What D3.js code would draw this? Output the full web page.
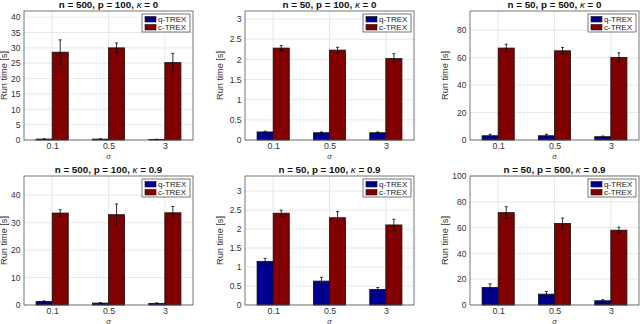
<!DOCTYPE html>
<html lang="en">
<head>
<meta charset="utf-8">
<title>q-TREX vs c-TREX run time</title>
<script src="https://d3js.org/d3.v7.min.js"></script>
<style>
  body { margin: 0; background: #fff; }
  svg { display: block; font-family: "Liberation Sans", Arial, sans-serif; }
</style>
</head>
<body>
<svg width="640" height="324"></svg>
<script>
// categories on the x axis (sigma)
const sigmaLabels = ["0.1", "0.5", "3"];
const seriesNames = ["q-TREX", "c-TREX"];

// panel titles: [n, p, kappa]
const panelN = ["500", "50", "50", "500", "50", "50"];
const panelP = ["100", "100", "500", "100", "100", "500"];
const panelKappa = ["0", "0", "0", "0.9", "0.9", "0.9"];

// mean run time [s] per panel
const qTrex = [
  [0.3, 0.3, 0.2],
  [0.2, 0.18, 0.18],
  [3.1, 3.1, 2.4],
  [1.3, 0.7, 0.6],
  [1.15, 0.63, 0.41],
  [13.6, 8.4, 3.3]
];
const qTrexErr = [
  [0.05, 0.05, 0.04],
  [0.02, 0.02, 0.02],
  [1.1, 1.1, 0.5],
  [0.2, 0.15, 0.15],
  [0.08, 0.1, 0.05],
  [2.8, 2.0, 0.8]
];
const cTrex = [
  [28.6, 30.0, 25.2],
  [2.28, 2.23, 2.02],
  [67.0, 65.0, 60.2],
  [33.5, 32.9, 33.6],
  [2.42, 2.30, 2.11],
  [71.6, 63.2, 58.0]
];
const cTrexErr = [
  [4.0, 1.6, 3.0],
  [0.06, 0.07, 0.12],
  [2.8, 2.5, 3.3],
  [1.2, 3.9, 2.3],
  [0.08, 0.16, 0.15],
  [4.6, 4.2, 2.4]
];

// y axis limits and tick values
const yMax = [42, 3.2, 94, 47, 3.4, 100];
const yTicks = [
  [0, 5, 10, 15, 20, 25, 30, 35, 40],
  [0, 0.5, 1, 1.5, 2, 2.5, 3],
  [0, 20, 40, 60, 80],
  [0, 10, 20, 30, 40],
  [0, 0.5, 1, 1.5, 2, 2.5, 3],
  [0, 20, 40, 60, 80, 100]
];

const colors = ["#00008f", "#800000"];
const svg = d3.select("svg");

// panel frames
const lefts = [24, 245, 470];
const tops = [11, 176];
const plotW = 169, plotH = 129;

function drawPanel(i) {
  const x0 = lefts[i % 3], y0 = tops[Math.floor(i / 3)];
  const g = svg.append("g").attr("transform", `translate(${x0},${y0})`);

  const x = d3.scaleLinear().domain([0.5, 3.5]).range([0, plotW]);
  const y = d3.scaleLinear().domain([0, yMax[i]]).range([plotH, 0]);

  // grid
  g.selectAll(".hg").data(yTicks[i]).join("line")
    .attr("x1", 0).attr("x2", plotW)
    .attr("y1", d => y(d)).attr("y2", d => y(d))
    .attr("stroke", "#e2e2e2").attr("stroke-width", 0.8);
  g.selectAll(".vg").data(sigmaLabels).join("line")
    .attr("x1", (d, k) => x(k + 1)).attr("x2", (d, k) => x(k + 1))
    .attr("y1", 0).attr("y2", plotH)
    .attr("stroke", "#e2e2e2").attr("stroke-width", 0.8);

  // bars (MATLAB grouped layout: two bars each 2/7 wide)
  const bw = 2 / 7;
  const series = [
    {vals: qTrex[i], errs: qTrexErr[i], off: -bw / 2},
    {vals: cTrex[i], errs: cTrexErr[i], off: bw / 2}
  ];
  series.forEach((s, si) => {
    const pts = s.vals.map((v, k) => ({xc: k + 1 + s.off, v: v, e: s.errs[k]}));
    g.selectAll(null).data(pts).join("rect")
      .attr("x", d => x(d.xc - bw / 2))
      .attr("y", d => y(d.v))
      .attr("width", d => x(d.xc + bw / 2) - x(d.xc - bw / 2))
      .attr("height", d => y(0) - y(d.v))
      .attr("fill", colors[si])
      .attr("stroke", "#111").attr("stroke-width", 0.8);
    // error bars
    const eb = g.selectAll(null).data(pts).join("g");
    eb.append("line")
      .attr("x1", d => x(d.xc)).attr("x2", d => x(d.xc))
      .attr("y1", d => y(d.v - d.e)).attr("y2", d => y(d.v + d.e))
      .attr("stroke", "#000").attr("stroke-width", 0.8);
    eb.append("line")
      .attr("x1", d => x(d.xc) - 1.5).attr("x2", d => x(d.xc) + 1.5)
      .attr("y1", d => y(d.v + d.e)).attr("y2", d => y(d.v + d.e))
      .attr("stroke", "#000").attr("stroke-width", 0.8);
    eb.append("line")
      .attr("x1", d => x(d.xc) - 1.5).attr("x2", d => x(d.xc) + 1.5)
      .attr("y1", d => y(d.v - d.e)).attr("y2", d => y(d.v - d.e))
      .attr("stroke", "#000").attr("stroke-width", 0.8);
  });

  // axes
  const yAxis = d3.axisLeft(y).tickValues(yTicks[i]).tickSize(0).tickPadding(3.5)
    .tickFormat(d3.format("~g"));
  const xAxis = d3.axisBottom(x).tickValues([1, 2, 3]).tickSize(0).tickPadding(2.5)
    .tickFormat((d, k) => sigmaLabels[k]);
  g.append("g").call(yAxis).call(a => a.select(".domain").remove())
    .selectAll("text").attr("font-size", 8.5).attr("fill", "#333");
  g.append("g").attr("transform", `translate(0,${plotH})`).call(xAxis)
    .call(a => a.select(".domain").remove())
    .selectAll("text").attr("font-size", 8.8).attr("fill", "#333");

  // box
  g.append("rect").attr("width", plotW).attr("height", plotH)
    .attr("fill", "none").attr("stroke", "#555").attr("stroke-width", 0.8);

  // labels
  const title = g.append("text").attr("x", plotW / 2).attr("y", -3)
    .attr("text-anchor", "middle").attr("font-size", 9.8).attr("fill", "#111");
  title.append("tspan").attr("font-weight", "bold")
    .text(`n = ${panelN[i]}, p = ${panelP[i]}, `);
  title.append("tspan").attr("font-style", "italic").text("\u03ba");
  title.append("tspan").attr("font-weight", "bold").text(` = ${panelKappa[i]}`);

  g.append("text")
    .attr("transform", `translate(${i % 3 === 0 ? -17 : -22},${plotH / 2}) rotate(-90)`)
    .attr("text-anchor", "middle").attr("font-size", 9.2).attr("fill", "#333")
    .text("Run time [s]");
  g.append("text").attr("x", plotW / 2).attr("y", plotH + 18.5)
    .attr("text-anchor", "middle").attr("font-size", 7.5).attr("font-style", "italic")
    .attr("fill", "#333").text("\u03c3");

  // legend
  const lg = g.append("g").attr("transform", `translate(${plotW - 51},3)`);
  lg.append("rect").attr("width", 48).attr("height", 18)
    .attr("fill", "#fff").attr("stroke", "#555").attr("stroke-width", 0.8);
  seriesNames.forEach((name, si) => {
    lg.append("rect").attr("x", 3).attr("y", 2.5 + si * 8).attr("width", 11).attr("height", 5.5)
      .attr("fill", colors[si]).attr("stroke", "#111").attr("stroke-width", 0.6);
    lg.append("text").attr("x", 16).attr("y", 8.2 + si * 8)
      .attr("font-size", 8).attr("fill", "#222").text(name);
  });
}

for (let i = 0; i < 6; i++) drawPanel(i);
</script>
</body>
</html>
